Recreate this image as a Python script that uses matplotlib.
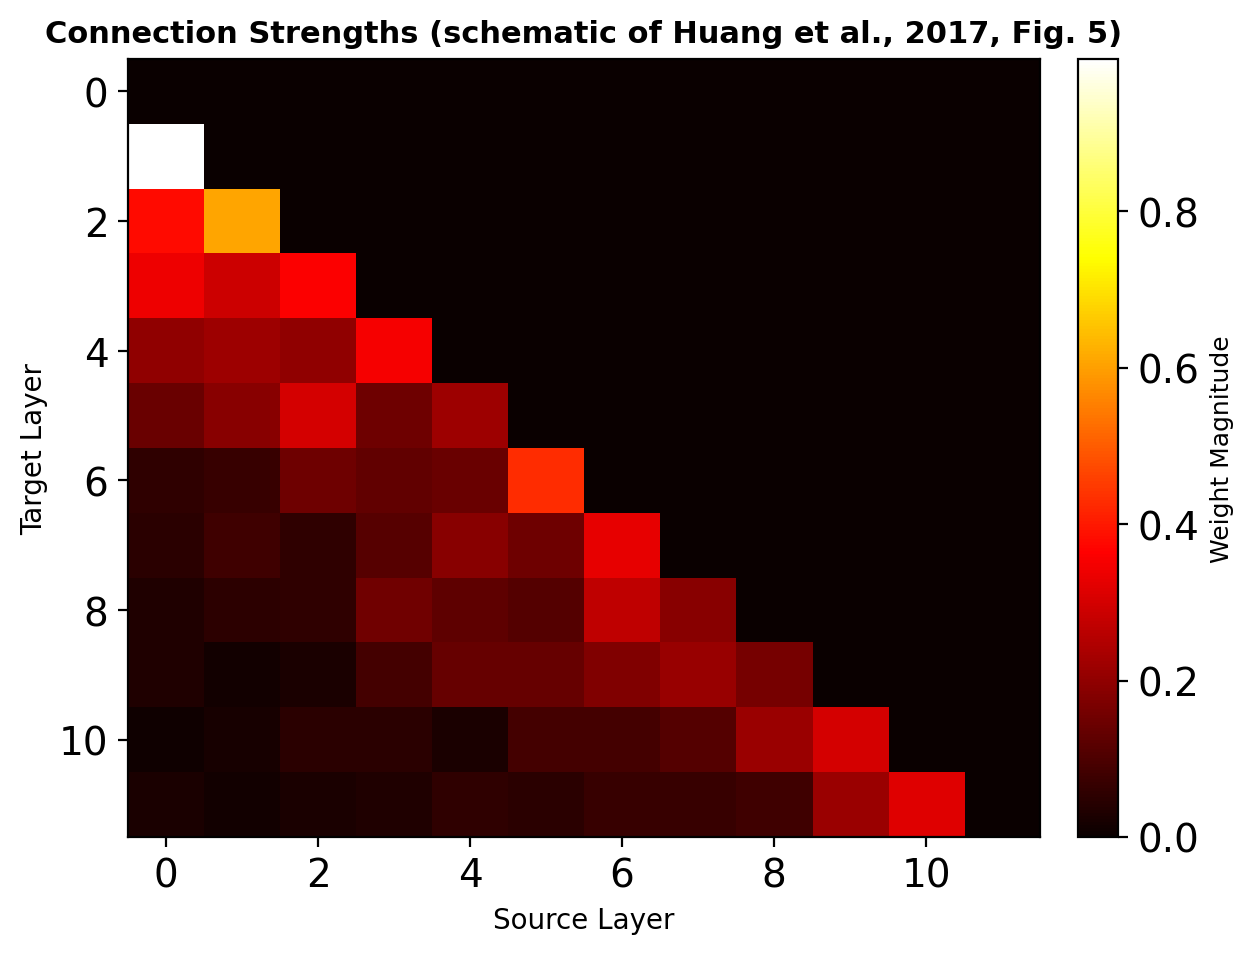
import matplotlib
matplotlib.use("Agg")
import matplotlib.pyplot as plt
import numpy as np

# lower-triangular connection weights, read row by row (target layer i, source layers 0..i-1)
row_1 = [0.995]
row_2 = [0.38, 0.61]
row_3 = [0.34, 0.29, 0.36]
row_4 = [0.20, 0.22, 0.20, 0.35]
row_5 = [0.14, 0.19, 0.30, 0.15, 0.22]
row_6 = [0.056, 0.068, 0.15, 0.13, 0.14, 0.43]
row_7 = [0.047, 0.08, 0.056, 0.116, 0.187, 0.151, 0.33]
row_8 = [0.032, 0.053, 0.056, 0.154, 0.128, 0.111, 0.27, 0.19]
row_9 = [0.032, 0.014, 0.026, 0.086, 0.137, 0.139, 0.175, 0.211, 0.163]
row_10 = [0.008, 0.02, 0.05, 0.05, 0.026, 0.089, 0.089, 0.111, 0.217, 0.30]
row_11 = [0.026, 0.014, 0.026, 0.032, 0.056, 0.05, 0.068, 0.068, 0.08, 0.217, 0.316]

rows = [row_1, row_2, row_3, row_4, row_5, row_6, row_7, row_8, row_9, row_10, row_11]
n_layers = 12

weights = np.zeros((n_layers, n_layers))
for i, r in enumerate(rows, start=1):
    weights[i, :len(r)] = r

fig = plt.figure(figsize=(6.27, 4.77), dpi=200)
ax = fig.add_axes([0.1021, 0.1216, 0.7273, 0.8155])
cax = fig.add_axes([0.8596, 0.1216, 0.0319, 0.8155])

im = ax.imshow(weights, cmap="hot", aspect="auto", interpolation="nearest")
ax.set_title("Connection Strengths (schematic of Huang et al., 2017, Fig. 5)",
             fontsize=11, fontweight="bold", pad=6)
ax.set_xlabel("Source Layer", fontsize=10)
ax.set_ylabel("Target Layer", fontsize=10)
ax.tick_params(labelsize=14)

cb = fig.colorbar(im, cax=cax)
cb.set_label("Weight Magnitude", fontsize=9)
cb.ax.tick_params(labelsize=14)

fig.savefig("out.png", dpi=200)
